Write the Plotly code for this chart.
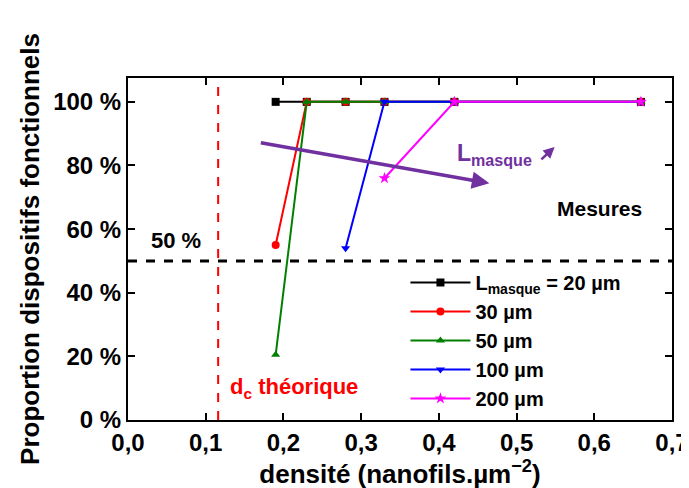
import plotly.graph_objects as go

# Data
names = ["L<sub>masque</sub> = 20 µm", "30 µm", "50 µm", "100 µm", "200 µm"]
x20 = [0.19, 0.23, 0.28, 0.33, 0.42, 0.66]
y20 = [100, 100, 100, 100, 100, 100]
x30 = [0.19, 0.23, 0.28, 0.33, 0.42, 0.66]
y30 = [55, 100, 100, 100, 100, 100]
x50 = [0.19, 0.23, 0.28, 0.33, 0.42, 0.66]
y50 = [20.5, 100, 100, 100, 100, 100]
x100 = [0.28, 0.33, 0.42, 0.66]
y100 = [54, 100, 100, 100]
x200 = [0.33, 0.42, 0.66]
y200 = [76, 100, 100]
dc_theo = 0.116
seuil = 50
x_ticks = [0, 0.1, 0.2, 0.3, 0.4, 0.5, 0.6, 0.7]
x_ticklabels = ["0,0", "0,1", "0,2", "0,3", "0,4", "0,5", "0,6", "0,7"]
y_ticks = [0, 20, 40, 60, 80, 100]
y_ticklabels = ["0 %", "20 %", "40 %", "60 %", "80 %", "100 %"]

colors = ["#000000", "#ff0000", "#008000", "#0000ff", "#ff00ff"]
symbols = ["square", "circle", "triangle-up", "triangle-down", "star"]
xs = [x20, x30, x50, x100, x200]
ys = [y20, y30, y50, y100, y200]

FONT = "Liberation Sans, Arial, sans-serif"
PURPLE = "#7030A0"

fig = go.Figure()
for n, xv, yv, c, s in zip(names, xs, ys, colors, symbols):
    fig.add_trace(go.Scatter(
        x=xv, y=yv, mode="lines+markers", name="<b>" + n + "</b>",
        line=dict(color=c, width=2),
        marker=dict(color=c, symbol=s, size=8 if s != "star" else 9),
    ))

# reference lines
fig.add_shape(type="line", x0=dc_theo, x1=dc_theo, y0=0, y1=1, xref="x", yref="paper",
              line=dict(color="#ff0000", width=2, dash="dash"))
fig.add_shape(type="line", x0=0, x1=1, y0=seuil, y1=seuil, xref="paper", yref="y",
              line=dict(color="#000000", width=3, dash="dash"))

# purple arrow
fig.add_annotation(x=0.465, y=74.4, ax=0.169, ay=87.2, xref="x", yref="y", axref="x", ayref="y",
                   showarrow=True, arrowhead=2, arrowsize=1, arrowwidth=3.5, arrowcolor=PURPLE, text="")
fig.add_annotation(x=0.549, y=85.8, ax=0.530, ay=81.5, xref="x", yref="y", axref="x", ayref="y",
                   showarrow=True, arrowhead=2, arrowsize=0.9, arrowwidth=2.5, arrowcolor=PURPLE, text="")
fig.add_annotation(x=0.421, y=83.3, xref="x", yref="y", showarrow=False, xanchor="left",
                   text="<b>L<sub>masque</sub></b>", font=dict(family=FONT, size=23, color=PURPLE))
fig.add_annotation(x=0.607, y=66.6, xref="x", yref="y", showarrow=False,
                   text="<b>Mesures</b>", font=dict(family=FONT, size=21, color="#000000"))
fig.add_annotation(x=0.062, y=56.3, xref="x", yref="y", showarrow=False,
                   text="<b>50 %</b>", font=dict(family=FONT, size=22, color="#000000"))
fig.add_annotation(x=0.129, y=10, xref="x", yref="y", showarrow=False, xanchor="left",
                   text="<b>d<sub>c</sub> théorique</b>", font=dict(family=FONT, size=22, color="#ff0000"))

axis_common = dict(showline=True, linecolor="black", linewidth=2, mirror="ticks",
                   ticks="inside", ticklen=7, tickwidth=2, tickcolor="black",
                   showgrid=False, zeroline=False, automargin=False,
                   tickfont=dict(family=FONT, size=24, color="black"))

fig.update_xaxes(range=[0, 0.7], tickvals=x_ticks, ticktext=["<b>%s</b>" % t for t in x_ticklabels],
                 title=dict(text="<b>densité (nanofils.µm<sup>−2</sup>)</b>",
                            font=dict(family=FONT, size=26, color="black"), standoff=0),
                 **axis_common)
fig.update_yaxes(range=[0, 107.5], tickvals=y_ticks, ticktext=["<b>%s</b>" % t for t in y_ticklabels],
                 title=dict(text="<b>Proportion dispositifs fonctionnels</b>",
                            font=dict(family=FONT, size=26, color="black"), standoff=6),
                 **axis_common)

fig.update_layout(
    width=689, height=488,
    margin=dict(l=120, r=25, t=70, b=76),
    plot_bgcolor="white", paper_bgcolor="white",
    font=dict(family=FONT, color="black"),
    legend=dict(x=0.51, y=0.006, xanchor="left", yanchor="bottom",
                bgcolor="rgba(255,255,255,0)", borderwidth=0,
                font=dict(family=FONT, size=20, color="black"),
                tracegroupgap=0, itemwidth=60),
    showlegend=True,
)

fig.write_html("out.html")
